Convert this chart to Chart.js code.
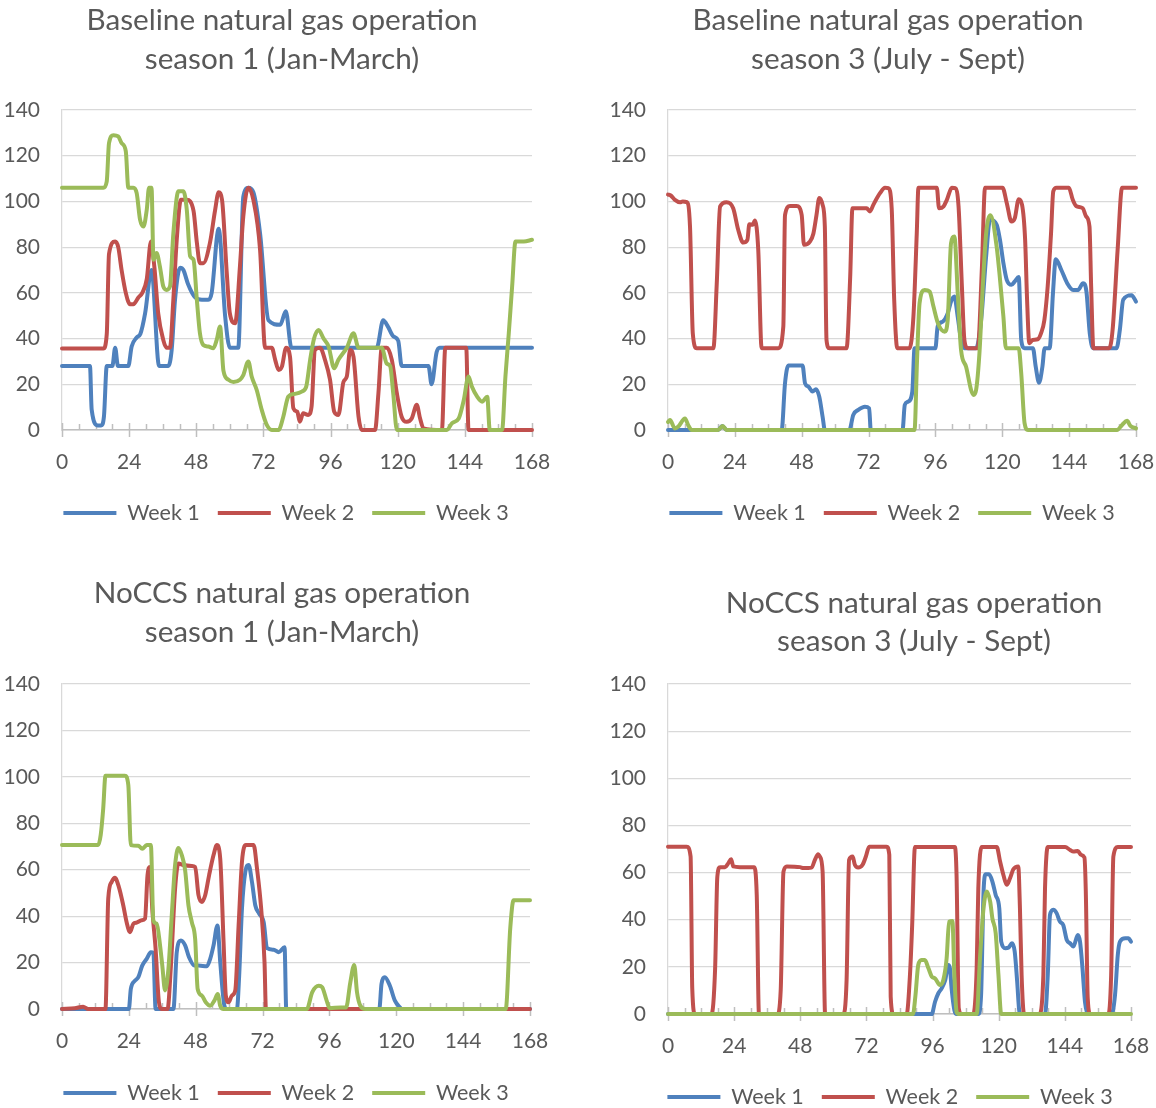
<!DOCTYPE html>
<html>
<head>
<meta charset="utf-8">
<title>Natural gas operation by season</title>
<script src="https://cdn.jsdelivr.net/npm/chart.js@4.4.0/dist/chart.umd.min.js"></script>
<style>
  html, body { margin: 0; padding: 0; background: #ffffff; width: 1156px; height: 1108px; overflow: hidden; position: relative; }
  canvas { position: absolute; }
</style>
</head>
<body>
<canvas id="baseS1" width="570" height="550" style="left:0px;top:0px"></canvas>
<canvas id="baseS3" width="584" height="550" style="left:590px;top:0px"></canvas>
<canvas id="noccsS1" width="568" height="570" style="left:0px;top:560px"></canvas>
<canvas id="noccsS3" width="579" height="570" style="left:590px;top:560px"></canvas>
<script>
// Hour of the week on the x axis, generation on the y axis
const hourTicks = [0, 24, 48, 72, 96, 120, 144, 168];
const valueMax = 140;
const valueStep = 20;
const weekLabels = ['Week 1', 'Week 2', 'Week 3'];
const weekColors = ['#4F81BD', '#C0504D', '#9BBB59'];

// Each series: [hour, value] vertices of the hourly dispatch curve

// Baseline, season 1 (Jan-March)
const baseS1Week1 = [[0,28],[10,28],[10.6,9],[12.8,2],[14,2],[15,6],[16,28],[18,28],[19,36],[20,28],[23.7,28],[24.9,36.5],[26.7,40.5],[28,42],[29.7,51],[32,70],[34.7,28],[38,28],[39.2,35],[40.4,57],[42.2,71],[43.4,70],[45,64],[47.6,58],[50,57],[52.3,57],[53.5,60],[56,88],[58.3,50],[60,36],[63,36],[64.8,102],[66.6,106],[68.4,104],[70.8,86],[73.8,48],[78,46],[80,52],[82,36],[112.5,36],[114.8,48],[116.6,45],[118.4,41],[120.2,39],[121.4,28],[131,28],[132.1,20],[133.9,34],[135,36],[168,36]];
const baseS1Week2 = [[0,35.7],[14.8,35.7],[16,42],[16.8,77],[19,82.5],[20.1,80],[21.3,70],[22.8,60],[24.3,55],[25.5,55],[27.3,58],[28.7,60],[30.3,66],[31.8,82.5],[33,71.5],[34.4,51],[36.2,39.4],[37.4,36],[38.6,36],[39.8,57],[41,83],[42.5,100.7],[44.6,100.7],[47,96],[48.2,82],[49.3,73],[50.5,73],[52.9,82],[54.7,96],[56,104],[57.2,100.7],[58.9,68.6],[60,51],[61.9,46.7],[63.6,71.5],[64.8,93.4],[66.6,106],[68.4,100.7],[70.8,78.8],[72.6,36],[75,36],[76.2,30.7],[77.4,26.3],[78.6,27.7],[80.1,36],[81.5,32],[82.7,9.5],[84.1,8],[85,3.6],[86.2,7.3],[88,6.6],[89.2,10.2],[90.4,35],[92.2,36],[94,30.7],[95.8,22],[97.3,8],[98.8,6.6],[100.6,21],[101.8,23.4],[103,35],[104.2,32],[106,5.8],[107.2,0],[111.9,0],[113.1,16],[114.3,36],[116.1,36],[117.9,30.7],[119.7,16],[121.4,5.8],[123.2,3.6],[125,5],[126.8,11],[128,5],[129.2,0.7],[135.8,0],[137,36],[144.5,36],[145.3,0],[168,0]];
const baseS1Week3 = [[0,106],[14.8,106],[16,108.8],[16.8,125.5],[18.4,129],[20.1,128.5],[21.3,125.5],[22.8,122],[23.7,106],[25.5,106],[26.7,103.6],[27.9,92],[29.1,89],[30.3,96.4],[31.1,106],[32,106],[32.7,74.5],[33.8,77.4],[35,71.5],[36.2,62.8],[37.4,61.3],[38.6,62.8],[39.8,86],[41.6,104.4],[43.4,104.4],[44.6,96.4],[45.8,76],[47,74.5],[48.2,57],[49.3,42.3],[50.5,37.2],[52.3,36.5],[54.1,35.8],[55.3,39.4],[56.5,45.3],[57.7,26],[59.5,22],[61.3,21],[63.6,22],[64.8,24],[66.6,30],[67.8,23.4],[69.6,17.5],[71.4,8.8],[73.2,2.2],[75,0],[77.4,0],[79.1,5.8],[80.9,14.6],[83.3,15.8],[85.7,16.8],[87.3,19],[88.7,30.7],[90.1,40],[91.7,43.8],[93.5,40],[95.3,36.5],[97.3,27],[98.8,30.7],[101.8,36],[104.2,42.3],[106,36],[114.3,36],[116.1,29],[117.3,28],[118.4,16],[119.7,0],[137.6,0],[139.4,3],[141.8,5],[143.6,13],[145.3,23.4],[146.5,19],[148.4,14.6],[150.2,12.4],[152,14.6],[152.9,0],[157.3,0],[158.5,23.4],[159.7,42.3],[160.9,62.8],[162.1,82.5],[165.1,82.5],[168,83.2]];

// Baseline, season 3 (July - Sept)
const baseS3Week1 = [[0,0],[18,0],[19.5,1.8],[21,0],[40.8,0],[42,20.4],[43.2,28.2],[48.3,28.2],[49.2,20.4],[50.4,19],[51.9,16.8],[53.1,17.8],[54.3,14.6],[55.5,5.8],[56.3,0],[65.1,0],[66.5,6.6],[68.3,8.8],[70.7,10.2],[72.2,9.5],[72.8,0],[84.2,0],[85,11],[86.2,12.4],[87.7,16.8],[88.5,35.8],[96,35.8],[96.8,45.3],[98.6,47.4],[100.4,51],[101.6,56.2],[102.8,58.4],[104,49.6],[105.2,39.4],[106.4,35.8],[110.6,35.8],[112.4,48],[114.2,76],[115.6,92],[118,89.8],[119.2,83],[120.4,73],[121.6,65.7],[123.3,63.5],[124.5,65],[125.9,66.9],[126.8,39.4],[128,35.8],[131,35.8],[132,27.7],[133.2,20.7],[134.4,27.7],[135.2,35.8],[137,35.8],[138.2,60],[139.2,74.7],[141.2,70],[143.3,64.2],[145.4,61.3],[147.2,61.3],[149,64.2],[150.2,60.6],[151.4,42.3],[152.6,35.8],[161,35.8],[162.2,43.8],[163.4,57],[166.4,59],[168,56.2]];
const baseS3Week2 = [[0,103],[1,102.6],[2.5,100.7],[4.3,99.6],[5.3,100],[6.7,99.7],[7.9,89],[8.9,42.3],[10.3,35.8],[16.3,35.8],[17.5,64],[18.7,97.8],[21,99.6],[23.4,97],[25.2,87.6],[27,82],[28.5,83.2],[29.2,90],[30.4,89.8],[31.2,91.7],[32.4,78.8],[33.6,35.8],[39.6,35.8],[41.4,45.3],[42,94],[43.8,98],[46.2,98],[48,94],[48.8,81],[51,82.5],[52.2,86],[53.3,94],[54.3,101.5],[55.5,98.5],[56.3,89],[56.9,39.4],[57.9,35.8],[64.1,35.8],[65.4,67],[66.2,97],[71.3,97],[72.5,95.6],[73.7,98.5],[76.1,103.6],[77.9,106],[79.1,105.8],[80.3,97],[81.2,57],[82.3,35.8],[86.7,35.8],[88.1,49.6],[89.3,86],[89.9,106],[96.5,106],[97.3,97],[98.9,97.8],[100.1,100.7],[101.9,106],[103.1,105.8],[104.3,97.8],[105.5,62.8],[106.4,39.4],[107.6,35.8],[111.2,35.8],[112.7,71.5],[113.8,106],[120.1,106],[121.6,99.3],[123.3,91.2],[124.5,92.7],[125.9,101],[127.1,98.5],[128.2,83.2],[128.9,57],[129.7,38],[130.9,39.4],[132.7,39.7],[133.9,42.3],[135.1,48],[136.3,62.8],[137.5,86],[138.3,104.4],[139.5,106],[143.9,106],[145.3,100.7],[146.5,98],[148.9,97],[150.1,93.4],[151.3,89],[151.9,62.8],[152.7,35.8],[158.4,35.8],[159.6,43.8],[161.4,78.8],[163,106],[168,106]];
const baseS3Week3 = [[0,3.5],[0.7,4.4],[2.5,0.7],[3.7,1.5],[6.1,5],[7.3,2],[8.5,0],[18,0],[19.6,1.8],[21,0],[88.5,0],[89.4,30.7],[90.3,55.5],[92.1,61.3],[93.9,60.6],[95.3,54],[96.9,46.7],[99.3,43],[100.4,48],[101.6,81.7],[102.8,84.7],[104,60],[105.2,35],[107,27.7],[108.8,17.5],[109.7,15.3],[110.6,17.5],[111.8,33.6],[113,62.8],[114.2,86],[115.8,94],[118,80],[119.2,65.7],[120.4,49.6],[121.3,35.8],[125.9,35.8],[126.8,24.8],[128,3],[129.2,0],[161.2,0],[163,2.2],[164.8,4],[166,1.8],[168,0.7]];

// NoCCS, season 1 (Jan-March)
const noccsS1Week1 = [[0,0],[24,0],[24.7,8.6],[26.2,12.2],[27.4,13.7],[28.8,18.7],[30.4,21.6],[31.9,24.5],[32.8,24.2],[33.6,0],[40,0],[41.2,24.5],[42.7,29.5],[44.2,27.4],[45.6,22.3],[47.5,18.7],[49,18.7],[52,18.4],[53.2,21.6],[54.4,27.4],[55.8,36],[56.8,20.2],[58.3,1.4],[59.2,0],[62.8,0],[63.6,14.4],[64.6,43.2],[65.8,59],[67,62],[68.2,54.7],[69.4,44.6],[70.8,41],[72.4,37.4],[73.6,26.2],[76,25.5],[77.8,24.5],[79.9,26.6],[80.5,0],[113.9,0],[114.7,10.8],[115.9,13.7],[117.7,10],[119.5,3.6],[121.3,0.7],[121.9,0],[168,0]];
const noccsS1Week2 = [[0,0],[4.6,0.3],[7.6,1],[9.4,0],[15.6,0],[16.6,47.5],[17.8,54.7],[19,56.5],[20.4,52.6],[22,44.6],[23.2,37.4],[24.4,33.1],[25.6,36.7],[26.8,37.2],[28.6,38.2],[29.8,38.9],[30.7,57.6],[31.6,61.2],[32.4,43.2],[33.6,25.9],[34.8,2.9],[35.8,0],[37.9,0],[39.1,18.7],[40.6,51.9],[41.8,62.7],[43.6,62],[46.6,61.6],[47.8,61.2],[49,49],[50.2,46.1],[51.4,49],[52.8,57.6],[54.4,66.3],[55.6,70.6],[56.8,64.8],[58,28.8],[58.8,5.8],[59.8,2.9],[61,5.8],[62.2,8],[63.4,36],[64.6,63.4],[66,70.6],[68.8,70.6],[70,60.5],[71.5,43.2],[72.7,20.2],[73.2,0],[168,0]];
const noccsS1Week3 = [[0,70.6],[13,70.6],[13.9,75],[14.8,86.4],[15.6,100.5],[22.6,100.5],[23.8,96.5],[24.7,70.6],[27.4,70.3],[28.8,69],[30.4,70.6],[31.9,70.6],[32.8,38],[34,36.7],[35.2,27.4],[36,18.7],[37,8],[38.2,17.3],[39.4,40.3],[40.6,62],[41.8,69.4],[43,66.3],[44.2,59.8],[45.4,44.6],[46.6,37.4],[47.8,30.2],[48.7,8.6],[50.2,5.8],[51.6,2.9],[53.2,1.4],[54.7,3.6],[55.9,6.5],[56.8,1.4],[58,0],[87.9,0],[89.8,7.2],[92.2,10],[93.4,9.4],[95,3.6],[96.1,0.3],[100,0.7],[102,0.7],[103.5,11.5],[104.9,19],[105.9,7.2],[107.1,1.4],[108.9,0],[159.3,0],[160.9,34.6],[162.1,46.8],[168,46.8]];

// NoCCS, season 3 (July - Sept)
const noccsS3Week1 = [[0,0],[95.7,0],[96.9,5.2],[98.1,8.8],[99.3,10.9],[100.6,14.4],[101.7,20.8],[102.3,19.4],[102.9,10.9],[103.9,1.7],[104.7,0],[112.6,0],[113.6,8],[114.5,52],[115.3,59.3],[116.5,59.3],[117.7,56.2],[118.9,50.5],[120.2,44.9],[120.9,30.7],[122.4,27.9],[123.6,28.2],[124.8,30],[125.8,26.5],[126.7,13.7],[127.5,1],[128.2,0],[136.8,0],[137.8,16.6],[138.6,42],[139.8,44.2],[141,42.8],[142.2,39.2],[143.4,37.8],[144.7,31.4],[145.9,30],[147.1,28.6],[148.7,33.5],[149.5,30.7],[150.4,19.4],[151.3,5.2],[152.3,0],[161,0],[162.2,8],[163.2,25],[164,30.7],[165.9,32.1],[167.1,32.1],[168,30.7]];
const noccsS3Week2 = [[0,71],[6.8,71],[8.2,66.8],[8.8,10.9],[9.8,0],[15.8,0],[17.1,19.4],[17.9,58.3],[18.9,62.3],[20.7,62.3],[21.9,64],[22.9,65.7],[23.7,62.6],[26.1,62.3],[31.2,62.3],[32.2,50.5],[33,0],[39.7,0],[40.9,10.2],[41.9,60.4],[43.1,62.6],[47.9,62.3],[49.1,61.9],[52.1,62.1],[53.3,65.4],[54.5,67.8],[55.1,66.8],[56.1,60.4],[57,0],[63.6,0],[64.8,14.4],[65.7,65.4],[67,66.8],[67.8,63.3],[69,62.1],[70.6,63.3],[71.8,66.8],[73,71],[79.3,71],[80.3,67.5],[80.8,7.4],[81.8,0],[86.6,0],[87.8,16.6],[88.6,37.8],[89.6,70.8],[104.1,70.8],[104.7,59],[105.5,2.4],[106.5,0],[110.8,0],[112,19.4],[112.6,53.4],[113.8,70.8],[119.3,70.8],[120.5,64.7],[121.7,59],[122.9,54.8],[124.1,57.6],[125.3,61.4],[127.1,62.6],[127.7,44.9],[128.3,16.6],[129.2,0],[134.7,0],[136.2,16.6],[136.8,53.4],[137.8,70.8],[144.1,70.8],[145.9,69.6],[147.1,68.9],[148.7,69.2],[149.9,67.5],[151.1,66.4],[151.6,52],[152.3,6.7],[153.2,0],[159.8,0],[160.8,16.6],[161.6,66.8],[163.2,70.8],[168,70.8]];
const noccsS3Week3 = [[0,0],[88.9,0],[89.8,8],[90.8,20.8],[92,22.9],[93.2,22.9],[94.5,19.4],[95.7,15.9],[96.9,15.1],[98.7,12.3],[99.9,14.4],[101.1,23.6],[102,39.2],[103.2,39.5],[103.9,16.6],[104.7,1],[105.4,0],[112,0],[113.2,23.6],[114.5,44.9],[115.7,52],[116.9,47.7],[117.7,40.6],[118.9,34.3],[119.9,16.6],[120.9,0],[168,0]];

const TEXT_COLOR = '#595959';
const FONT_FAMILY = 'Lato, "Liberation Sans", sans-serif';

// Two-line panel titles, drawn centred at a given point of the canvas
const panelTitle = {
  id: 'panelTitle',
  afterDraw(chart, args, opts) {
    const ctx = chart.ctx;
    ctx.save();
    ctx.font = opts.size + 'px ' + FONT_FAMILY;
    ctx.fillStyle = TEXT_COLOR;
    ctx.textAlign = 'center';
    ctx.textBaseline = 'middle';
    opts.lines.forEach((line, i) => ctx.fillText(line, opts.x, opts.y[i]));
    ctx.restore();
  }
};

// Moves the legend row sideways so it sits under the plot rather than the whole box
const legendShift = {
  id: 'legendShift',
  afterLayout(chart, args, opts) {
    const lg = chart.legend;
    if (lg && opts.dx) {
      lg.left += opts.dx;
      lg.right += opts.dx;
    }
  }
};

// Small tick marks on the hour axis: every 6 h inside, every 24 h crossing the axis
const hourMarks = {
  id: 'hourMarks',
  beforeDatasetsDraw(chart) {
    const xs = chart.scales.x;
    const bottom = chart.chartArea.bottom;
    const ctx = chart.ctx;
    ctx.save();
    ctx.strokeStyle = '#BFBFBF';
    ctx.lineWidth = 1.5;
    xs.ticks.forEach(t => {
      const px = Math.round(xs.getPixelForValue(t.value)) + 0.5;
      const major = hourTicks.includes(t.value);
      ctx.beginPath();
      ctx.moveTo(px, bottom - (major ? 7 : 6));
      ctx.lineTo(px, bottom + (major ? 7 : 0));
      ctx.stroke();
    });
    ctx.restore();
  }
};

function makePanel(canvasId, series, title, layout) {
  const datasets = series.map((pts, i) => ({
    label: weekLabels[i],
    data: pts.map(([h, v]) => ({ x: h, y: v })),
    borderColor: weekColors[i],
    backgroundColor: weekColors[i],
    borderWidth: 4,
    pointRadius: 0,
    pointHoverRadius: 0,
    cubicInterpolationMode: 'monotone',
    borderJoinStyle: 'round',
    borderCapStyle: 'round',
    clip: false,
    order: 3 - i
  }));

  return new Chart(document.getElementById(canvasId), {
    type: 'line',
    data: { datasets },
    plugins: [panelTitle, legendShift, hourMarks],
    options: {
      responsive: false,
      animation: false,
      devicePixelRatio: 1,
      events: [],
      layout: { padding: layout.padding },
      scales: {
        x: {
          type: 'linear',
          min: 0,
          max: 168,
          afterFit(scale) { scale.height = layout.xAxisHeight; },
          grid: { display: true, drawOnChartArea: false, drawTicks: false },
          border: { display: true, color: '#BFBFBF', width: 1.5 },
          ticks: {
            stepSize: 6,
            autoSkip: false,
            maxRotation: 0,
            padding: 19.5,
            color: TEXT_COLOR,
            font: { family: FONT_FAMILY, size: 21 },
            callback: v => (hourTicks.includes(v) ? String(v) : '')
          }
        },
        y: {
          type: 'linear',
          min: 0,
          max: valueMax,
          afterFit(scale) { scale.width = 62; },
          grid: { color: '#D9D9D9', lineWidth: 1.25, drawTicks: false },
          border: { display: true, color: '#D9D9D9', width: 1.25 },
          ticks: {
            stepSize: valueStep,
            autoSkip: false,
            padding: 22,
            color: TEXT_COLOR,
            font: { family: FONT_FAMILY, size: 21 }
          }
        }
      },
      plugins: {
        title: { display: false },
        tooltip: { enabled: false },
        panelTitle: { lines: title.lines, x: title.x, y: title.y, size: 29.7 },
        legendShift: { dx: layout.legendDx },
        legend: {
          display: true,
          position: 'bottom',
          labels: {
            color: TEXT_COLOR,
            font: { family: FONT_FAMILY, size: 21.5 },
            boxWidth: 53,
            boxHeight: 4,
            padding: 18,
            sort: (a, b) => a.datasetIndex - b.datasetIndex,
            generateLabels(chart) {
              const items = Chart.defaults.plugins.legend.labels.generateLabels(chart);
              items.forEach(it => { it.lineWidth = 0; });
              return items;
            }
          }
        }
      }
    }
  });
}

makePanel('baseS1', [baseS1Week1, baseS1Week2, baseS1Week3],
  { lines: ['Baseline natural gas operation', 'season 1 (Jan-March)'], x: 282, y: [20, 59] },
  { padding: { left: 0, right: 38, top: 110, bottom: 16.25 }, xAxisHeight: 54.25, legendDx: 20 });

makePanel('baseS3', [baseS3Week1, baseS3Week2, baseS3Week3],
  { lines: ['Baseline natural gas operation', 'season 3 (July - Sept)'], x: 298, y: [20, 59] },
  { padding: { left: 16, right: 38, top: 110, bottom: 16.25 }, xAxisHeight: 54.25, legendDx: 21 });

makePanel('noccsS1', [noccsS1Week1, noccsS1Week2, noccsS1Week3],
  { lines: ['NoCCS natural gas operation', 'season 1 (Jan-March)'], x: 282, y: [33, 72] },
  { padding: { left: 0, right: 38, top: 124, bottom: 16.25 }, xAxisHeight: 55.25, legendDx: 21 });

makePanel('noccsS3', [noccsS3Week1, noccsS3Week2, noccsS3Week3],
  { lines: ['NoCCS natural gas operation', 'season 3 (July - Sept)'], x: 324, y: [43, 81] },
  { padding: { left: 16, right: 38, top: 124, bottom: 12.25 }, xAxisHeight: 54.25, legendDx: 21.5 });
</script>
</body>
</html>
